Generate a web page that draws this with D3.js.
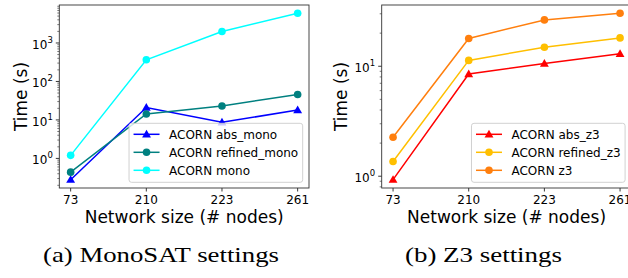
<!DOCTYPE html>
<html>
<head>
<meta charset="utf-8">
<script src="https://cdn.jsdelivr.net/npm/d3@7"></script>
<style>
  body { margin: 0; background: #fff; }
  svg { display: block; }
  text { font-family: "DejaVu Sans", sans-serif; fill: #000; }
  text.caption { font-family: "Liberation Serif", "DejaVu Serif", serif; }
</style>
</head>
<body>
<svg id="chart" width="628" height="278"></svg>
<script>
// network sizes (x categories)
var nodes = ["73", "210", "223", "261"];

// (a) MonoSAT settings, time in seconds
var absMono = [0.28, 21, 8.7, 18];
var refinedMono = [0.44, 14.3, 23, 46];
var mono = [1.2, 365, 1990, 5900];

// (b) Z3 settings, time in seconds
var absZ3 = [0.93, 8.5, 10.6, 13.0];
var refinedZ3 = [1.36, 11.3, 14.9, 18.1];
var z3 = [2.26, 17.9, 26.4, 30.3];

var xLabel = "Network size (# nodes)";
var yLabel = "Time (s)";

var svg = d3.select("#chart");

var panels = [
  {
    left: 59.3, right: 309, top: 5, bottom: 188, labelX: 27,
    caption: "(a) MonoSAT settings", capX: 43, capW: 236,
    series: [
      {name: "ACORN abs_mono", values: absMono, color: "#0000ff", marker: "triangle"},
      {name: "ACORN refined_mono", values: refinedMono, color: "#008080", marker: "circle"},
      {name: "ACORN mono", values: mono, color: "#00ffff", marker: "circle"}
    ]
  },
  {
    left: 381.7, right: 631.4, top: 5, bottom: 188, labelX: 347,
    caption: "(b) Z3 settings", capX: 405, capW: 157,
    series: [
      {name: "ACORN abs_z3", values: absZ3, color: "#ff0000", marker: "triangle"},
      {name: "ACORN refined_z3", values: refinedZ3, color: "#ffbf00", marker: "circle"},
      {name: "ACORN z3", values: z3, color: "#ff7f0e", marker: "circle"}
    ]
  }
];

panels.forEach(drawPanel);

function drawPanel(p) {
  var g = svg.append("g");

  // x: categorical positions, matplotlib-like 5% margins
  var x = d3.scalePoint().domain(nodes).range([p.left, p.right]).padding(0.15);

  // y: log scale with 5% margin in log space
  var all = [];
  p.series.forEach(function(s) { all = all.concat(s.values); });
  var lo = Math.log10(d3.min(all)), hi = Math.log10(d3.max(all));
  var m = (hi - lo) * 0.05;
  var y = d3.scaleLog().domain([Math.pow(10, lo - m), Math.pow(10, hi + m)])
    .range([p.bottom, p.top]);

  // minor + major y ticks
  var yTicks = [];
  for (var e = Math.floor(lo - m); e <= Math.ceil(hi + m); e++) {
    for (var k = 1; k < 10; k++) {
      var v = k * Math.pow(10, e);
      if (v >= y.domain()[0] && v <= y.domain()[1]) yTicks.push({v: v, major: k === 1, e: e});
    }
  }
  g.selectAll(".ytick").data(yTicks).enter().append("line")
    .attr("x1", p.left).attr("x2", function(d) { return p.left - (d.major ? 3.5 : 2); })
    .attr("y1", function(d) { return y(d.v); }).attr("y2", function(d) { return y(d.v); })
    .attr("stroke", "#222").attr("stroke-width", function(d) { return d.major ? 0.9 : 0.6; });

  var lab = g.selectAll(".ylab").data(yTicks.filter(function(d) { return d.major; })).enter()
    .append("text")
    .attr("x", p.left - 6.5)
    .attr("y", function(d) { return y(d.v) + 6; })
    .attr("text-anchor", "end")
    .style("font-size", "12px");
  lab.append("tspan").text("10");
  lab.append("tspan").attr("dy", -6).style("font-size", "8.5px").text(function(d) { return d.e; });

  // x ticks
  g.selectAll(".xtick").data(nodes).enter().append("line")
    .attr("x1", function(d) { return x(d); }).attr("x2", function(d) { return x(d); })
    .attr("y1", p.bottom).attr("y2", p.bottom + 3.5)
    .attr("stroke", "#222").attr("stroke-width", 0.9);
  g.selectAll(".xlab").data(nodes).enter().append("text")
    .attr("x", function(d) { return x(d); }).attr("y", p.bottom + 15.5)
    .attr("text-anchor", "middle").style("font-size", "12px")
    .text(function(d) { return d; });

  // axis labels
  g.append("text")
    .attr("x", (p.left + p.right) / 2).attr("y", 222.5)
    .attr("text-anchor", "middle").style("font-size", "17px").text(xLabel);
  g.append("text")
    .attr("transform", "translate(" + p.labelX + "," + ((p.top + p.bottom) / 2) + ") rotate(-90)")
    .attr("text-anchor", "middle").style("font-size", "17px").text(yLabel);

  // lines and markers
  var line = d3.line().x(function(d, i) { return x(nodes[i]); }).y(function(d) { return y(d); });
  var tri = d3.symbol().type(d3.symbolTriangle).size(34);
  p.series.forEach(function(s) {
    g.append("path").datum(s.values).attr("d", line)
      .attr("fill", "none").attr("stroke", s.color).attr("stroke-width", 1.5);
    drawMarkers(g, s, s.values.map(function(v, i) { return [x(nodes[i]), y(v)]; }), tri);
  });

  // frame
  g.append("rect")
    .attr("x", p.left).attr("y", p.top)
    .attr("width", p.right - p.left).attr("height", p.bottom - p.top)
    .attr("fill", "none").attr("stroke", "#333").attr("stroke-width", 0.9);

  // legend, lower right
  var lg = g.append("g");
  var box = lg.append("rect").attr("rx", 2.5)
    .attr("fill", "#fff").attr("fill-opacity", 0.8)
    .attr("stroke", "#cccccc").attr("stroke-width", 0.9);
  var rowH = 18, widest = 0;
  var rows = lg.selectAll(".row").data(p.series).enter().append("g");
  rows.append("text")
    .attr("x", 40).attr("y", function(d, i) { return i * rowH + 4.3; })
    .style("font-size", "12px")
    .text(function(d) { return d.name; })
    .each(function() { widest = Math.max(widest, this.getComputedTextLength()); });
  rows.append("line")
    .attr("x1", 4.5).attr("x2", 30.5)
    .attr("y1", function(d, i) { return i * rowH; }).attr("y2", function(d, i) { return i * rowH; })
    .attr("stroke", function(d) { return d.color; }).attr("stroke-width", 1.5);
  rows.each(function(d, i) { drawMarkers(d3.select(this), d, [[17.5, i * rowH]], tri); });

  var w = 40 + widest + 4.5, h = 2 * rowH + 23;
  box.attr("x", 0).attr("y", -11).attr("width", w).attr("height", h);
  lg.attr("transform", "translate(" + (p.right - 6.3 - w) + "," + (p.bottom - 5.7 - h + 11) + ")");

  // caption (LaTeX subfigure style)
  svg.append("text").attr("class", "caption")
    .attr("x", p.capX).attr("y", 261.7)
    .attr("textLength", p.capW).attr("lengthAdjust", "spacingAndGlyphs")
    .style("font-size", "22px")
    .text(p.caption);
}

function drawMarkers(sel, s, pts, tri) {
  pts.forEach(function(pt) {
    if (s.marker === "triangle") {
      sel.append("path").attr("d", tri)
        .attr("transform", "translate(" + pt[0] + "," + (pt[1] + 0.6) + ")")
        .attr("fill", s.color);
    } else {
      sel.append("circle").attr("cx", pt[0]).attr("cy", pt[1]).attr("r", 3.8)
        .attr("fill", s.color);
    }
  });
}
</script>
</body>
</html>
